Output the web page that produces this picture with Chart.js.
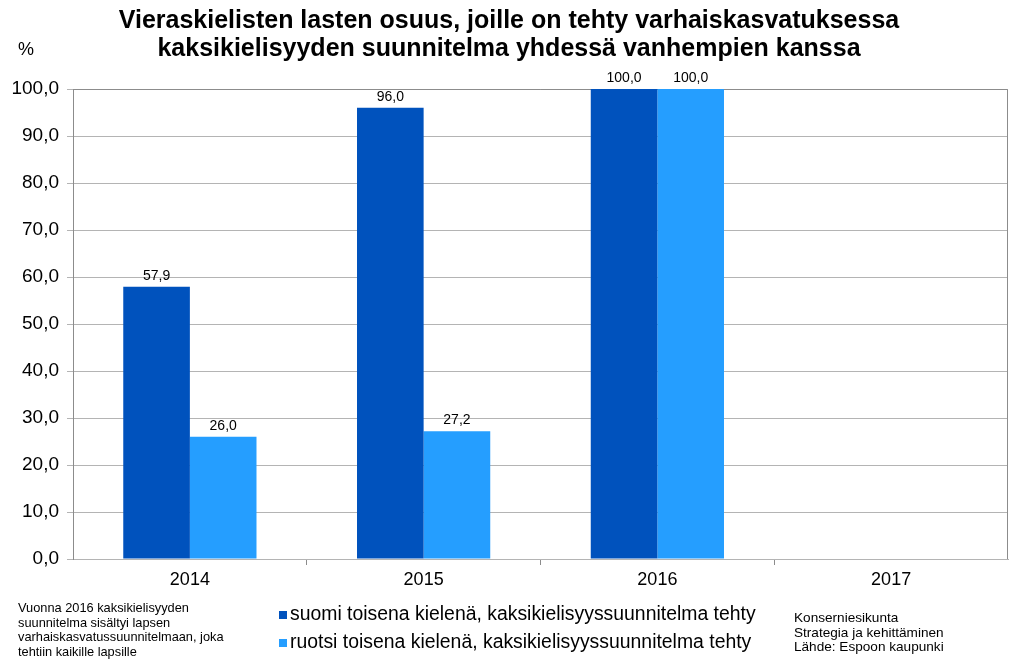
<!DOCTYPE html>
<html>
<head>
<meta charset="utf-8">
<script src="https://cdn.jsdelivr.net/npm/chart.js@4.4.0/dist/chart.umd.min.js"></script>
<style>
  body { margin: 0; background: #fff; font-family: Arial, "Liberation Sans", sans-serif; }
  #wrap { position: relative; width: 1024px; height: 669px; }
  canvas { position: absolute; left: 0; top: 0; }
  .title { position: absolute; left: 0; top: 5px; width: 1018px; text-align: center; font-weight: bold; font-size: 25px; line-height: 28px; color: #000; }
  .pct { position: absolute; left: 18px; top: 39px; font-size: 18px; }
  .note { position: absolute; font-size: 12.8px; line-height: 14.6px; color: #000; }
  .legend { position: absolute; left: 279px; top: 599px; font-size: 19.4px; line-height: 28px; }
  .legend span.box { display: inline-block; width: 8px; height: 8px; margin-right: 3px; vertical-align: 1px; }
</style>
</head>
<body>
<div id="wrap">
  <canvas id="chart" width="1024" height="669"></canvas>
  <div class="title">Vieraskielisten lasten osuus, joille on tehty varhaiskasvatuksessa<br>kaksikielisyyden suunnitelma yhdessä vanhempien kanssa</div>
  <div class="pct">%</div>
  <div class="note" style="left:18px; top:601px;">Vuonna 2016 kaksikielisyyden<br>suunnitelma sisältyi lapsen<br>varhaiskasvatussuunnitelmaan, joka<br>tehtiin kaikille lapsille</div>
  <div class="legend" id="legend"></div>
  <div class="note" style="left:794px; top:611px; font-size:13.6px;">Konserniesikunta<br>Strategia ja kehittäminen<br>Lähde: Espoon kaupunki</div>
</div>
<script>
// data
const years = ['2014', '2015', '2016', '2017'];
const suomiValues = [57.9, 96.0, 100.0, null];
const ruotsiValues = [26.0, 27.2, 100.0, null];
const seriesNames = [
  'suomi toisena kielenä, kaksikielisyyssuunnitelma tehty',
  'ruotsi toisena kielenä, kaksikielisyyssuunnitelma tehty'
];
const yTicks = [0, 10, 20, 30, 40, 50, 60, 70, 80, 90, 100];
const colors = ['#0052BD', '#259EFF'];

const fmt = v => v.toFixed(1).replace('.', ',');

// legend
const legendEl = document.getElementById('legend');
seriesNames.forEach((name, i) => {
  const row = document.createElement('div');
  row.innerHTML = '<span class="box" style="background:' + colors[i] + '"></span>' + name;
  legendEl.appendChild(row);
});

// labels above bars + frame
const barLabels = {
  id: 'barLabels',
  afterDatasetsDraw(chart) {
    const ctx = chart.ctx;
    ctx.save();
    ctx.font = '14px Arial, "Liberation Sans", sans-serif';
    ctx.fillStyle = '#000';
    ctx.textAlign = 'center';
    ctx.textBaseline = 'bottom';
    chart.data.datasets.forEach((ds, i) => {
      chart.getDatasetMeta(i).data.forEach((bar, j) => {
        const v = ds.data[j];
        if (v === null) return;
        ctx.fillText(fmt(v), bar.x, bar.y - 4);
      });
    });
    ctx.restore();
  },
  beforeDatasetsDraw(chart) {
    const a = chart.chartArea;
    const ctx = chart.ctx;
    ctx.save();
    ctx.strokeStyle = '#8c8c8c';
    ctx.lineWidth = 1;
    ctx.beginPath();
    ctx.moveTo(a.left, a.top + 0.5);
    ctx.lineTo(a.right - 0.5, a.top + 0.5);
    ctx.lineTo(a.right - 0.5, a.bottom);
    ctx.stroke();
    ctx.restore();
  }
};

new Chart(document.getElementById('chart'), {
  type: 'bar',
  data: {
    labels: years,
    datasets: [
      { label: seriesNames[0], data: suomiValues, backgroundColor: colors[0] },
      { label: seriesNames[1], data: ruotsiValues, backgroundColor: colors[1] }
    ]
  },
  options: {
    responsive: false,
    animation: false,
    devicePixelRatio: 1,
    categoryPercentage: 0.57,
    barPercentage: 1,
    layout: { padding: { top: 89, right: 16, bottom: 0, left: 0 } },
    plugins: {
      legend: { display: false },
      title: { display: false },
      tooltip: { enabled: false }
    },
    scales: {
      x: {
        afterFit(scale) { scale.height = 110; },
        grid: {
          offset: true,
          drawOnChartArea: false,
          drawTicks: true,
          tickLength: 6,
          // no tick marks at the two outer edges
          color: c => (c.index === 0 || c.index === undefined) ? 'rgba(0,0,0,0)' : '#8c8c8c'
        },
        border: { color: '#b4b4b4' },
        ticks: { color: '#000', font: { size: 18, family: 'Arial, "Liberation Sans", sans-serif' }, padding: 4 }
      },
      y: {
        min: 0,
        max: 100,
        afterFit(scale) { scale.width = 73; },
        afterBuildTicks(scale) { scale.ticks = yTicks.map(v => ({ value: v })); },
        grid: { color: '#b4b4b4', tickLength: 6 },
        border: { color: '#8c8c8c' },
        ticks: {
          color: '#000',
          padding: 8,
          font: { size: 19, family: 'Arial, "Liberation Sans", sans-serif' },
          callback: v => fmt(v)
        }
      }
    }
  },
  plugins: [barLabels]
});
</script>
</body>
</html>
